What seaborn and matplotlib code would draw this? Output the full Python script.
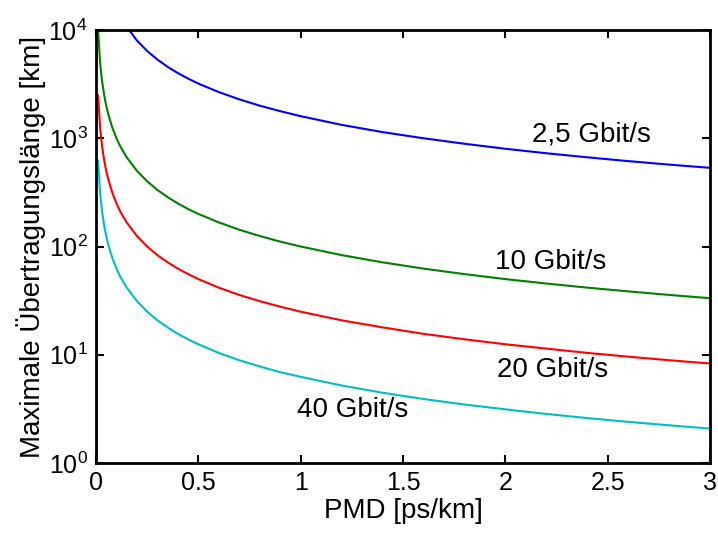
import numpy as np
import pandas as pd
import seaborn as sns
import matplotlib
matplotlib.use("Agg")
import matplotlib.pyplot as plt

# PMD values [ps/km]
pmd = [0.01, 0.02, 0.03, 0.04, 0.05, 0.06, 0.08, 0.1, 0.12, 0.15, 0.2, 0.25, 0.3, 0.35,
       0.4, 0.45, 0.5, 0.6, 0.7, 0.8, 0.9, 1.0, 1.2, 1.4, 1.6, 1.8, 2.0, 2.2, 2.4,
       2.6, 2.8, 3.0]

# max transmission length [km]
len_2g5 = [160000, 80000, 53300, 40000, 32000, 26700, 20000, 16000, 13300, 10700, 8000,
           6400, 5330, 4570, 4000, 3560, 3200, 2670, 2290, 2000, 1780, 1600, 1330, 1140,
           1000, 890, 800, 727, 667, 615, 571, 533]
len_10g = [10000, 5000, 3330, 2500, 2000, 1670, 1250, 1000, 833, 667, 500, 400, 333, 286,
           250, 222, 200, 167, 143, 125, 111, 100, 83.3, 71.4, 62.5, 55.6, 50, 45.5, 41.7,
           38.5, 35.7, 33.3]
len_20g = [2500, 1250, 833, 625, 500, 417, 313, 250, 208, 167, 125, 100, 83.3, 71.4, 62.5,
           55.6, 50, 41.7, 35.7, 31.3, 27.8, 25, 20.8, 17.9, 15.6, 13.9, 12.5, 11.4, 10.4,
           9.6, 8.9, 8.3]
len_40g = [625, 312, 208, 156, 125, 104, 78, 62.5, 52, 41.7, 31.3, 25, 20.8, 17.9, 15.6,
           13.9, 12.5, 10.4, 8.9, 7.8, 6.9, 6.25, 5.2, 4.46, 3.9, 3.47, 3.13, 2.84, 2.6,
           2.4, 2.23, 2.08]

rates = ["2,5 Gbit/s", "10 Gbit/s", "20 Gbit/s", "40 Gbit/s"]
colors = ["#0000ff", "#008000", "#ff0000", "#00bfbf"]

df = pd.concat([
    pd.DataFrame({"pmd": pmd, "len": vals, "rate": r})
    for vals, r in zip([len_2g5, len_10g, len_20g, len_40g], rates)
])

sns.set_style("ticks")
plt.rcParams['font.family'] = ['Liberation Sans', 'DejaVu Sans']
plt.rcParams['mathtext.fontset'] = 'custom'
plt.rcParams['mathtext.rm'] = 'Liberation Sans'
plt.rcParams['text.color'] = 'black'
plt.rcParams['axes.labelcolor'] = 'black'
plt.rcParams['xtick.color'] = 'black'
plt.rcParams['ytick.color'] = 'black'

fig = plt.figure(figsize=(7.18, 5.4), dpi=100)
ax = fig.add_axes([0.1337, 0.1426, 0.8552, 0.8018])

sns.lineplot(data=df, x="pmd", y="len", hue="rate", palette=dict(zip(rates, colors)),
             linewidth=1.5, legend=False, ax=ax)

ax.set_yscale("log")
ax.set_xlim(0, 3)
ax.set_ylim(1, 1e4)
ax.set_yticks([1, 10, 100, 1000, 10000])
ax.yaxis.set_minor_locator(matplotlib.ticker.NullLocator())
ax.set_xticks([0, 0.5, 1, 1.5, 2, 2.5, 3])
ax.set_xticklabels(["0", "0.5", "1", "1.5", "2", "2.5", "3"])

ax.tick_params(direction="in", top=True, right=True, length=6, width=1.5,
               labelsize=18, pad=6, colors="black")
for s in ax.spines.values():
    s.set_linewidth(2)
    s.set_color("black")

ax.set_xlabel("PMD [ps/km]", fontsize=20, labelpad=2, color="black")
ax.set_ylabel("Maximale Übertragungslänge [km]", fontsize=20, labelpad=2, color="black")

# curve labels
ax.text(2.13, 1075, "2,5 Gbit/s", fontsize=20, va="center", color="black")
ax.text(1.95, 72, "10 Gbit/s", fontsize=20, va="center", color="black")
ax.text(1.96, 7.3, "20 Gbit/s", fontsize=20, va="center", color="black")
ax.text(0.98, 3.1, "40 Gbit/s", fontsize=20, va="center", color="black")

fig.savefig("out.png", dpi=100)
